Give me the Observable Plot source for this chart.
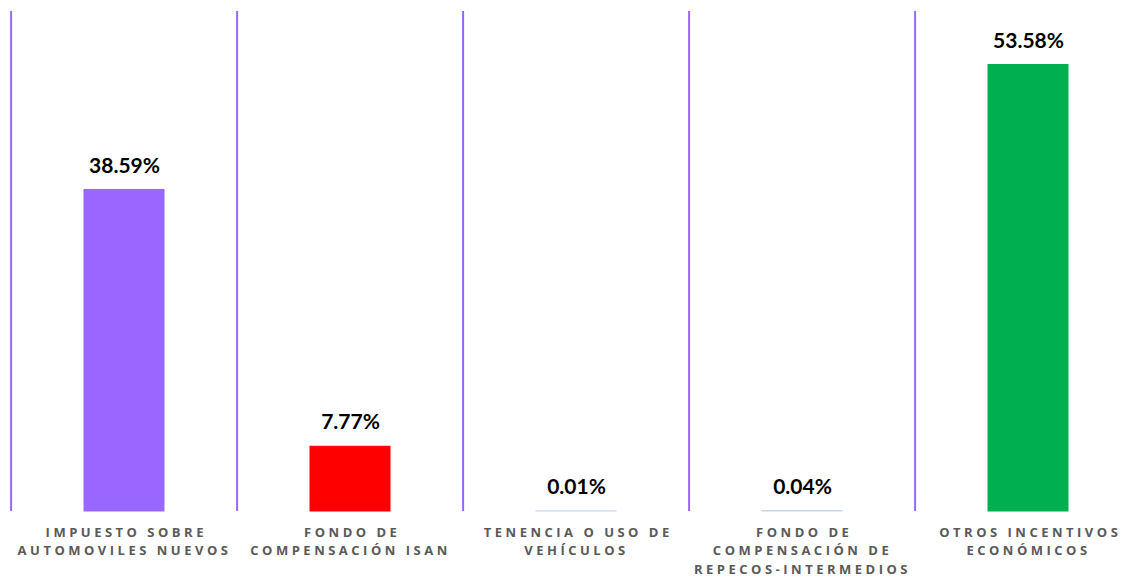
<!DOCTYPE html>
<html><head><meta charset="utf-8">
<script src="https://cdn.jsdelivr.net/npm/d3@7"></script>
<script src="https://cdn.jsdelivr.net/npm/@observablehq/plot@0.6"></script>
<style>body{margin:0;background:#fff}</style>
</head><body><div id="chart"></div>
<script>
const categories = [
  "IMPUESTO SOBRE\nAUTOMOVILES NUEVOS",
  "FONDO DE\nCOMPENSACIÓN ISAN",
  "TENENCIA O USO DE\nVEHÍCULOS",
  "FONDO DE\nCOMPENSACIÓN DE\nREPECOS-INTERMEDIOS",
  "OTROS INCENTIVOS\nECONÓMICOS"
];
const values = [38.59, 7.77, 0.01, 0.04, 53.58];
const labels = ["38.59%", "7.77%", "0.01%", "0.04%", "53.58%"];
const colors = ["#9966FF", "#FF0000", "#BDD7EE", "#BDD7EE", "#00B050"];

const data = categories.map((c, i) => ({cat: c, value: values[i], label: labels[i], color: colors[i]}));

const W = 1132, H = 578;
const mL = 9, mR = -11;
const step = (W - mL - mR) / categories.length;

const chart = Plot.plot({
  width: W,
  height: H,
  marginLeft: mL,
  marginRight: mR,
  marginTop: 11,
  marginBottom: 67,
  x: {domain: categories, padding: 0, axis: null},
  y: {domain: [0, 60], axis: null},
  color: {type: "identity"},
  style: {background: "#fff"},
  marks: [
    Plot.ruleX(categories, {x: d => d, y1: 0, y2: 60, dx: -step / 2, stroke: "#9966FF", strokeWidth: 2}),
    Plot.barY(data, {x: "cat", y: "value", fill: "color", stroke: "color", strokeWidth: 1, insetLeft: 73, insetRight: 73}),
    Plot.text(data, {x: "cat", y: "value", text: "label", dy: -24, fontSize: 21, fontWeight: "bold", fill: "#000", fontFamily: "Lato"}),
    Plot.text(data, {x: "cat", y: 0, text: "cat", lineAnchor: "top", dy: 12, fontSize: 13, fontWeight: "bold", fill: "#595959", fontFamily: "Open Sans", lineHeight: 1.42, className: "catlab"})
  ]
});
document.getElementById("chart").appendChild(chart);
d3.select(chart).selectAll(".catlab text").attr("letter-spacing", "3.5px").attr("dx", 1.75);
</script>
</body></html>
